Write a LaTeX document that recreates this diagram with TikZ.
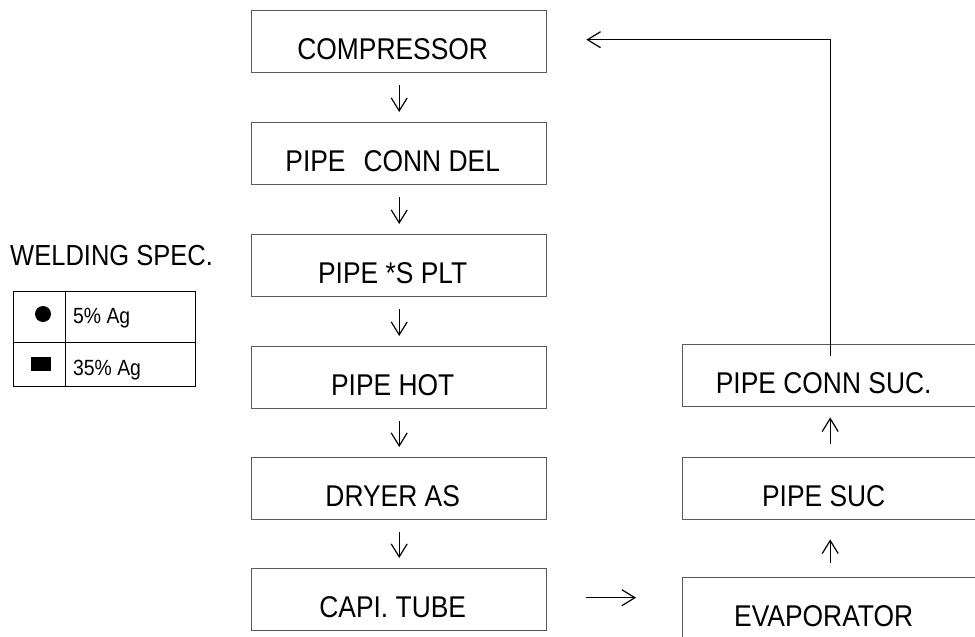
\documentclass[tikz,border=0pt]{standalone}
\usepackage{fontspec}
\setmainfont{Liberation Sans}[FakeStretch=0.88]
\usetikzlibrary{arrows.meta}

\tikzset{
  part/.style={rectangle, draw=black!65, line width=1.4pt, anchor=north west,
    minimum width=295pt, minimum height=62pt, inner sep=0pt,
    text height=40pt, text depth=5pt,
    font=\fontsize{30}{32}\selectfont,
    execute at end node={\hspace{13pt}}},
  flow/.style={-{Straight Barb[length=13pt, width=16pt]}, line width=1.2pt},
  down/.style={flow, shorten <=12pt, shorten >=10pt},
}

\begin{document}
\begin{tikzpicture}[x=1pt, y=-1pt]
        \useasboundingbox (0,0) rectangle (975,637);

        % main line
        \node[part] (comp)  at (251,10)  {COMPRESSOR};
        \node[part] (del)   at (251,122) {PIPE\hspace{18pt}CONN DEL};
        \node[part] (splt)  at (251,234) {PIPE *S PLT};
        \node[part] (hot)   at (251,346) {PIPE HOT};
        \node[part] (dryer) at (251,457) {DRYER AS};
        \node[part] (capi)  at (251,568) {CAPI. TUBE};

        % suction side
        \node[part] (succonn) at (682,344) {PIPE CONN SUC.};
        \node[part] (suc)     at (682,457) {PIPE SUC};
        \node[part] (evap)    at (682,577) {EVAPORATOR};

        \draw[down] (comp.south) -- (del.north);
        \draw[down] (del.south) -- (splt.north);
        \draw[down] (splt.south) -- (hot.north);
        \draw[down] (hot.south) -- (dryer.north);
        \draw[down] (dryer.south) -- (capi.north);

        \draw[flow] ([xshift=39pt, yshift=2pt]capi.east) -- ([xshift=-46pt, yshift=2pt]capi.east -| evap.west);
        \draw[flow, shorten <=14pt, shorten >=19pt] (evap.north) -- (suc.south);
        \draw[flow, shorten <=13pt, shorten >=10pt] (suc.north) -- (succonn.south);
        \draw[flow] ([yshift=-12pt]succonn.north) |- ([xshift=39pt, yshift=2pt]comp.east);

        % legend
        \node[anchor=base west, inner sep=0pt, font=\fontsize{29}{30}\selectfont] (spec) at (10,265) {WELDING SPEC.};
        \draw[line width=1pt] (13,291) rectangle (195,386);
        \draw[line width=1pt] (65,291) -- (65,386);
        \draw[line width=1pt] (13,342) -- (195,342);
        \fill (43,314) circle (8);
        \fill (31,357) rectangle (51,371);
        \node[anchor=base west, inner sep=0pt, font=\fontsize{22}{24}\selectfont] (ag5) at (73,323) {5\% Ag};
        \node[anchor=base west, inner sep=0pt, font=\fontsize{22}{24}\selectfont] (ag35) at (73,375) {35\% Ag};
\end{tikzpicture}
\end{document}
